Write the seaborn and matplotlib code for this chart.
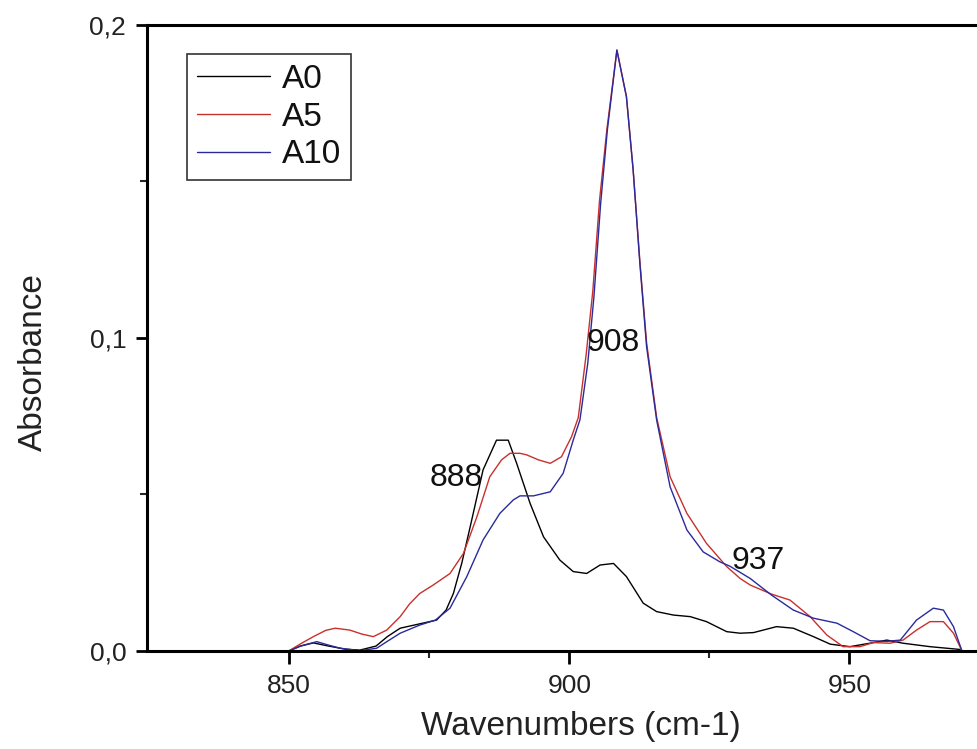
import matplotlib
matplotlib.use("Agg")
import matplotlib.pyplot as plt
import seaborn as sns
import pandas as pd
from matplotlib.ticker import FixedLocator

# ---- data ----
a0_x = [850.0, 852.0, 854.3, 857.0, 860.0, 862.6, 865.5, 867.5, 869.8, 873.3, 876.3, 878.0,
        879.3, 880.8, 882.3, 884.6, 887.0, 889.1, 890.6, 893.0, 895.4, 898.3, 900.7, 903.1,
        905.5, 907.9, 910.2, 913.2, 915.6, 918.6, 921.6, 924.5, 928.1, 930.5, 932.9, 937.0,
        940.0, 943.6, 946.6, 950.1, 954.3, 956.7, 959.6, 964.4, 969.8]
a0_y = [0.0, 0.0015, 0.0025, 0.0015, 0.0005, 0.0002, 0.0015, 0.0045, 0.0072, 0.0086, 0.0098, 0.0130,
        0.0183, 0.0280, 0.0396, 0.0578, 0.0673, 0.0673, 0.0599, 0.0471, 0.0364, 0.0290, 0.0253, 0.0247,
        0.0274, 0.0279, 0.0237, 0.0152, 0.0125, 0.0114, 0.0109, 0.0093, 0.0061, 0.0056, 0.0058, 0.0077,
        0.0072, 0.0045, 0.0021, 0.0013, 0.0026, 0.0034, 0.0024, 0.0013, 0.0004]

a5_x = [850.0, 852.0, 854.3, 856.5, 858.2, 860.8, 863.0, 865.0, 867.4, 869.8, 871.5, 873.3,
        875.7, 878.7, 881.1, 883.5, 885.8, 887.9, 889.4, 891.2, 892.4, 894.5, 896.6, 898.6,
        900.4, 901.6, 903.0, 904.2, 905.4, 906.7, 908.5, 910.2, 911.4, 912.6, 913.8, 915.6,
        918.0, 921.0, 924.5, 928.1, 930.5, 932.3, 936.1, 939.4, 943.0, 946.0, 948.9, 951.9,
        954.3, 957.3, 959.6, 962.0, 964.4, 966.8, 968.6, 970.1]
a5_y = [0.0, 0.0022, 0.0045, 0.0065, 0.0072, 0.0066, 0.0053, 0.0045, 0.0066, 0.0109, 0.0150, 0.0183,
        0.0210, 0.0247, 0.0311, 0.0428, 0.0556, 0.0610, 0.0631, 0.0631, 0.0626, 0.0610, 0.0599, 0.0620,
        0.0684, 0.0745, 0.0945, 0.1150, 0.1440, 0.1665, 0.1920, 0.1771, 0.1537, 0.1245, 0.0985, 0.0745,
        0.0556, 0.0439, 0.0343, 0.0269, 0.0231, 0.0210, 0.0181, 0.0162, 0.0109, 0.0050, 0.0013, 0.0013,
        0.0026, 0.0024, 0.0034, 0.0066, 0.0093, 0.0093, 0.0056, 0.0]

a10_x = [850.0, 852.0, 854.9, 857.0, 859.1, 862.6, 865.6, 867.5, 869.8, 873.3, 876.1, 878.7,
         881.7, 884.6, 887.6, 890.0, 891.2, 893.6, 896.6, 898.9, 900.7, 901.9, 903.3, 904.4,
         905.6, 906.8, 908.5, 910.2, 911.4, 912.6, 913.8, 915.6, 918.0, 921.0, 923.9, 926.9,
         928.7, 932.3, 936.1, 940.0, 943.6, 947.8, 950.7, 953.7, 956.7, 959.1, 962.0, 965.0,
         966.8, 968.6, 970.1]
a10_y = [0.0, 0.0015, 0.0029, 0.0018, 0.0008, 0.0, 0.0008, 0.0030, 0.0056, 0.0082, 0.0098, 0.0136,
         0.0237, 0.0354, 0.0439, 0.0482, 0.0495, 0.0495, 0.0508, 0.0567, 0.0673, 0.0738, 0.0919, 0.1132,
         0.1430, 0.1665, 0.1920, 0.1771, 0.1537, 0.1238, 0.0972, 0.0737, 0.0524, 0.0386, 0.0316, 0.0284,
         0.0270, 0.0231, 0.0178, 0.0130, 0.0104, 0.0088, 0.0061, 0.0032, 0.0030, 0.0034, 0.0098, 0.0136,
         0.0130, 0.0077, 0.0]

series_names = ["A0", "A5", "A10"]
series_colors = ["#000000", "#c8302c", "#2a2a9c"]

peak_labels = ["888", "908", "937"]
peak_label_x = [879.9, 907.9, 933.8]
peak_label_y = [0.0552, 0.0983, 0.0287]

x_ticks = [850, 900, 950]
x_minor = [875, 925]
y_ticks = [0.0, 0.1, 0.2]
y_tick_labels = ["0,0", "0,1", "0,2"]
y_minor = [0.05, 0.15]

# ---- build long table ----
frames = []
for name, xs, ys in zip(series_names, [a0_x, a5_x, a10_x], [a0_y, a5_y, a10_y]):
    frames.append(pd.DataFrame({"wn": xs, "abs": ys, "sample": name}))
df = pd.concat(frames, ignore_index=True)

sns.set_theme(style="ticks")
plt.rcParams["font.family"] = ["Liberation Sans", "DejaVu Sans"]

fig = plt.figure(figsize=(9.77, 7.49), dpi=100)
ax = fig.add_axes([0.1505, 0.1312, 0.8495, 0.8354])

sns.lineplot(data=df, x="wn", y="abs", hue="sample", hue_order=series_names,
             palette=dict(zip(series_names, series_colors)), estimator=None,
             sort=True, linewidth=1.0, ax=ax)

ax.set_xlim(824.6, 972.8)
ax.set_ylim(0.0, 0.2)

ax.set_xticks(x_ticks)
ax.set_xticklabels([str(t) for t in x_ticks])
ax.xaxis.set_minor_locator(FixedLocator(x_minor))
ax.set_yticks(y_ticks)
ax.set_yticklabels(y_tick_labels)
ax.yaxis.set_minor_locator(FixedLocator(y_minor))

ax.tick_params(axis="x", which="major", direction="out", length=9, width=2.0,
               labelsize=19, pad=7.5, colors="black", labelcolor="#222222")
ax.tick_params(axis="y", which="major", direction="out", length=8, width=2.0,
               labelsize=19, pad=7, colors="black", labelcolor="#222222")
ax.tick_params(axis="both", which="minor", direction="out", length=5, width=1.5)

for side in ["left", "top", "bottom"]:
    ax.spines[side].set_linewidth(2.2)
    ax.spines[side].set_color("black")
ax.spines["right"].set_visible(False)

ax.set_xlabel("Wavenumbers (cm-1)", fontsize=24, color="#222222")
ax.set_ylabel("Absorbance", fontsize=24, color="#222222")
ax.xaxis.set_label_coords(0.523, -0.097)
ax.yaxis.set_label_coords(-0.118, 0.461)

for lab, lx, ly in zip(peak_labels, peak_label_x, peak_label_y):
    ax.text(lx, ly, lab, fontsize=23, ha="center", va="center", color="#111111")

leg = ax.legend(loc="upper left", bbox_to_anchor=(0.048, 0.9537), borderaxespad=0,
                fontsize=24, frameon=True, fancybox=False, edgecolor="black",
                handlelength=2.2, handletextpad=0.35, labelspacing=0.2, borderpad=0.3,
                title=None)
leg.get_frame().set_linewidth(1.2)
for line in leg.get_lines():
    line.set_linewidth(1.0)
for t in leg.get_texts():
    t.set_color("#111111")

fig.savefig("out.png", dpi=100)
